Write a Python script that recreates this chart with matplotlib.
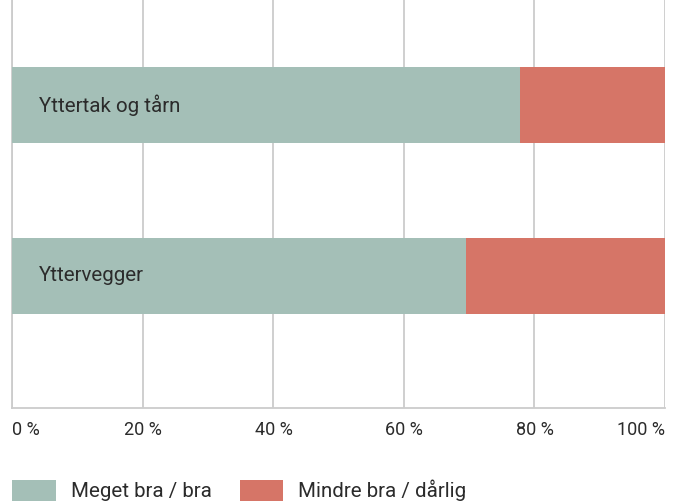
import matplotlib
matplotlib.use('Agg')
import matplotlib.pyplot as plt
from matplotlib.ticker import FuncFormatter

# kategorier og andeler (prosent)
kategorier = ['Yttertak og tårn', 'Yttervegger']
meget_bra = [77.8, 69.5]
mindre_bra = [22.2, 30.5]
serier = ['Meget bra / bra', 'Mindre bra / dårlig']
farger = ['#a4bfb7', '#d67567']
xticks = [0, 20, 40, 60, 80, 100]

plt.rcParams['font.family'] = ['Roboto', 'DejaVu Sans']

fig = plt.figure(figsize=(6.78, 5.01), dpi=100)
ax = fig.add_axes([0.0184, 0.1856, 0.9624, 0.8144])

pos = list(range(len(kategorier)))
ax.barh(pos, meget_bra, height=0.44, color=farger[0], label=serier[0], zorder=3)
ax.barh(pos, mindre_bra, left=meget_bra, height=0.44, color=farger[1], label=serier[1], zorder=3)

for p, navn in zip(pos, kategorier):
    ax.text(4, p, navn, va='center', ha='left', fontsize=14.8, color='#2b2b2b', zorder=4)

ax.set_xlim(0, 100)
ax.set_ylim(1.772, -0.614)
ax.set_yticks([])
ax.set_xticks(xticks)
ax.xaxis.set_major_formatter(FuncFormatter(lambda v, _: f'{v:.0f} %'))
ax.tick_params(axis='x', length=0, pad=9, labelsize=13, labelcolor='#2b2b2b')
lbls = ax.get_xticklabels()
lbls[0].set_ha('left')
lbls[-1].set_ha('right')

ax.grid(axis='x', color='#cccccc', linewidth=1.3, zorder=0)
for s in ['top', 'right']:
    ax.spines[s].set_visible(False)
for s in ['left', 'bottom']:
    ax.spines[s].set_color('#cccccc')
    ax.spines[s].set_linewidth(1.3)

fig.legend(loc='lower left', bbox_to_anchor=(0.0184, 0.0), ncol=2, frameon=False,
           fontsize=14.8, labelcolor='#2b2b2b', handlelength=2.1, handleheight=1.2,
           handletextpad=0.75, columnspacing=1.35, borderaxespad=0, borderpad=0)

fig.savefig('out.png', dpi=100)
